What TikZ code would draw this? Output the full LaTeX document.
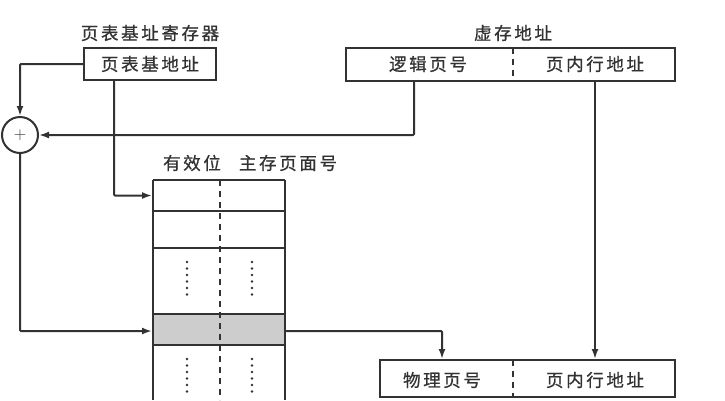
\documentclass[tikz,border=0pt]{standalone}
\usepackage{fontspec}
\newfontfamily\cjk[FakeBold=0.8,LetterSpace=15]{Noto Sans CJK SC}
\usetikzlibrary{arrows.meta}
\definecolor{ink}{RGB}{50,50,50}
\definecolor{hitgray}{RGB}{205,205,205}

\begin{document}
\begin{tikzpicture}[x=1pt,y=-1pt,line width=2pt,draw=ink,text=ink,
    font=\cjk\fontsize{17.5}{20}\selectfont,
    box/.style={draw,inner sep=0pt},
    arr/.style={-{Latex[length=10pt,width=7pt]},rounded corners=1pt},
    divider/.style={line width=2pt,dash pattern=on 6pt off 5pt},
    dots/.style={line width=2.8pt,line cap=round,dash pattern=on 0pt off 6.5pt}]
\useasboundingbox (0,0) rectangle (725,400);

% page table base register
\node (baselabel) at (150,33) {页表基址寄存器};
\node[box,minimum width=132,minimum height=32] (base) at (150,64) {页表基地址};
\coordinate (basedown) at (114,80);

% adder
\node[draw,circle,minimum size=36,inner sep=0pt,font=\LARGE] (sum) at (20,135) {$+$};

% virtual address
\node (virtlabel) at (513,33) {虚存地址};
\node[box,minimum width=329,minimum height=33] (virt) at (510.5,64.5) {};
\draw[divider] (513,48) -- (513,81);
\node (lpage) at (428,64) {逻辑页号};
\node (offset) at (595,64) {页内行地址};
\coordinate (lpagedown) at (414,81);

% page table
\node (validlabel) at (192,163) {有效位};
\node (framelabel) at (288,163) {主存页面号};
\fill[hitgray] (153,314) rectangle (285,345);
\draw (153,180) -- (153,400);
\draw (285,180) -- (285,400);
\draw[divider] (220,180) -- (220,400);
\foreach \y in {180,211,248,314,345}
{
    \draw (153,\y) -- (285,\y);
}
\foreach \x in {187,252}
{
    \draw[dots] (\x,262) -- (\x,300);
    \draw[dots] (\x,359) -- (\x,397);
}
\node[minimum width=132,minimum height=31,inner sep=0pt] (entry) at (219,195.5) {};
\node[minimum width=132,minimum height=31,inner sep=0pt] (hit) at (219,331) {};

% physical address
\node[box,minimum width=295,minimum height=37] (phys) at (527.5,378.5) {};
\draw[divider] (513,360) -- (513,397);
\node (ppage) at (442,380) {物理页号};
\node (poffset) at (595,380) {页内行地址};

% connectors
\draw[arr] (base.west) -| (sum.north);
\draw[arr] (lpagedown) |- (sum.east);
\draw[arr] (basedown) |- (entry.west);
\draw[arr] (sum.south) |- (hit.west);
\draw[arr] (hit.east) -| (ppage.center |- phys.north);
\draw[arr] (offset.center |- virt.south) -- (offset.center |- phys.north);

\end{tikzpicture}
\end{document}
